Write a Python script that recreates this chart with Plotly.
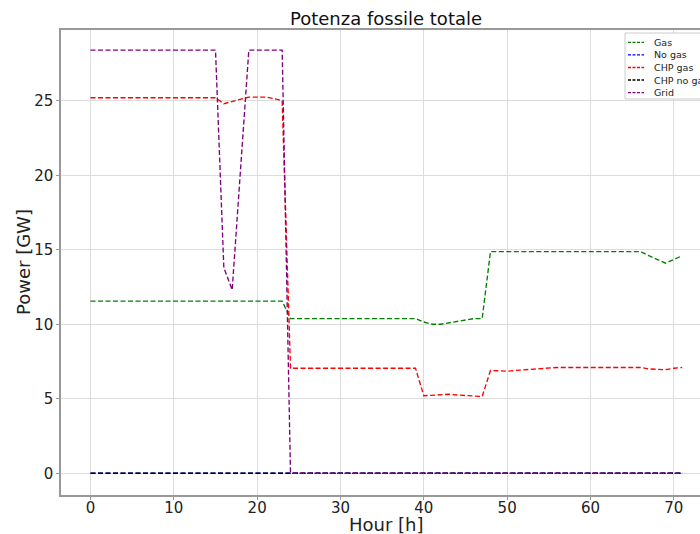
import plotly.graph_objects as go

hours = list(range(72))

gas = ([11.55] * 24 + [10.38] * 16 +
       [10.15, 10.0, 10.0, 10.1, 10.2, 10.3, 10.38, 10.38] +
       [14.88] * 19 + [14.6, 14.35, 14.1, 14.35, 14.6])
no_gas = [0.0] * 72
chp_gas = ([25.2] * 16 + [24.8, 24.95, 25.1, 25.25, 25.25, 25.25, 25.15, 25.0] +
           [7.05] * 16 +
           [5.2, 5.25, 5.3, 5.3, 5.25, 5.2, 5.18, 5.15] +
           [6.9, 6.85, 6.85, 6.9, 6.95, 7.0, 7.0, 7.05] +
           [7.1] * 11 + [7.0, 6.95, 6.95, 7.05, 7.1])
chp_no_gas = [0.0] * 72
grid = [28.4] * 16 + [13.8, 12.3, 20.35] + [28.4] * 5 + [0.0] * 48

series_names = ["Gas", "No gas", "CHP gas", "CHP no gas", "Grid"]
series_values = [gas, no_gas, chp_gas, chp_no_gas, grid]
series_colors = ["#008000", "#0000ff", "#ff0000", "#000000", "#800080"]

x_ticks = [0, 10, 20, 30, 40, 50, 60, 70]
y_ticks = [0, 5, 10, 15, 20, 25]

DASH = "5px,2.5px"
fig = go.Figure()
for name, vals, col in zip(series_names, series_values, series_colors):
    fig.add_trace(go.Scatter(x=hours, y=vals, mode="lines", name=name,
                             showlegend=False,
                             line=dict(color=col, width=1.35, dash=DASH)))

W, H = 700, 534
L, T, R = 61, 30, 0
B = H - 495
pw, ph = W - L - R, H - T - B


def px_x(p):
    return (p - L) / pw


def px_y(p):
    return 1 - (p - T) / ph


# matplotlib-style legend, clipped by the right edge as in the reference
shapes = [dict(type="rect", xref="paper", yref="paper",
               x0=px_x(625), x1=px_x(740), y0=px_y(99), y1=px_y(33),
               line=dict(color="#cccccc", width=1), fillcolor="white", layer="above")]
annotations = []
row_y = [42.3, 54.8, 67.5, 80.0, 92.7]
for name, col, ry in zip(series_names, series_colors, row_y):
    shapes.append(dict(type="line", xref="paper", yref="paper",
                       x0=px_x(628), x1=px_x(644), y0=px_y(ry), y1=px_y(ry),
                       line=dict(color=col, width=1.3, dash="3px,1.5px"), layer="above"))
    annotations.append(dict(text=name, xref="paper", yref="paper",
                            x=px_x(652), y=px_y(ry), xanchor="left", yanchor="middle",
                            showarrow=False, font=dict(size=9.5, color="#222")))

# axis titles
annotations.append(dict(text="Hour [h]", xref="paper", yref="paper",
                        x=px_x(386), y=px_y(524), xanchor="center", yanchor="middle",
                        showarrow=False, font=dict(size=18, color="#222")))
annotations.append(dict(text="Power [GW]", xref="paper", yref="paper", textangle=-90,
                        x=px_x(23), y=px_y(262), xanchor="center", yanchor="middle",
                        showarrow=False, font=dict(size=18, color="#222")))

font = "DejaVu Sans, Liberation Sans, sans-serif"
fig.update_layout(
    width=W, height=H,
    margin=dict(l=L, r=R, t=T, b=B, autoexpand=False),
    paper_bgcolor="white", plot_bgcolor="white",
    font=dict(family=font, color="#222"),
    title=dict(text="Potenza fossile totale", x=386 / W, xanchor="center",
               y=1 - 19 / H, yanchor="middle", font=dict(size=18, color="#111")),
    showlegend=False,
    shapes=shapes,
    annotations=annotations,
    xaxis=dict(range=[-3.54, 73.14], tickvals=x_ticks, showgrid=True,
               gridcolor="#dcdcdc", gridwidth=1, zeroline=False,
               showline=True, linecolor="#999999", linewidth=1.5, mirror=True,
               ticks="outside", ticklen=3, tickcolor="#999999",
               ticklabelstandoff=-5,
               tickfont=dict(size=15, color="#222"), automargin=False),
    yaxis=dict(range=[-1.46, 29.75], tickvals=y_ticks, showgrid=True,
               gridcolor="#dcdcdc", gridwidth=1, zeroline=False,
               showline=True, linecolor="#999999", linewidth=1.5,
               ticks="outside", ticklen=3, tickcolor="#999999",
               tickfont=dict(size=15, color="#222"), automargin=False),
)

fig.write_html("out.html", config={"displayModeBar": False},
               post_script="document.body.style.margin='0';document.body.style.overflow='hidden';")
